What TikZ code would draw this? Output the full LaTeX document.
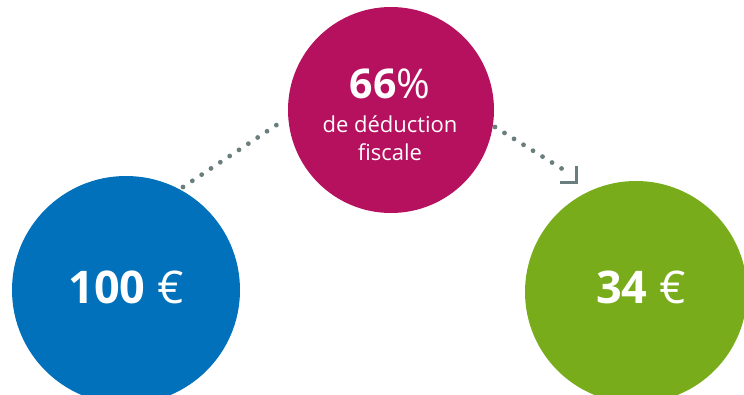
\documentclass[tikz,border=0pt]{standalone}
\usepackage{fontspec}
\setmainfont{Open Sans}
\usetikzlibrary{arrows.meta}
\definecolor{cblue}{HTML}{0071BA}
\definecolor{cmag}{HTML}{B6115F}
\definecolor{cgreen}{HTML}{78AC1B}
\definecolor{cdot}{HTML}{6B7E7E}
\tikzset{
  disc/.style={circle, inner sep=0pt, text=white, align=center},
  dotline/.style={cdot, line width=4.8pt, line cap=round, dash pattern=on 0pt off 11.2pt},
  lbl/.style={text=white, anchor=base, inner sep=0pt},
}
\begin{document}
\begin{tikzpicture}[x=1pt,y=-1pt]
\useasboundingbox (0,0) rectangle (744,394);
\clip (0,0) rectangle (744,394);
\node[disc, fill=cblue, minimum size=228pt] (blue) at (126,290) {};
\node[disc, fill=cmag, minimum size=206pt] (mag) at (391,110) {};
\node[disc, fill=cgreen, minimum size=222pt] (green) at (636,292) {};
\node[lbl, font=\fontsize{45}{45}\selectfont] (t100) at (126,303) {\textbf{100} €};
\node[lbl, font=\fontsize{45}{45}\selectfont] (t34) at (641,303) {\textbf{34} €};
\node[lbl, font=\fontsize{41}{41}\selectfont] (t66) at (390,98) {\textbf{66}\%};
\node[lbl, font=\fontsize{22}{28}\selectfont] (tded) at (390,132) {de déduction};
\node[lbl, font=\fontsize{22}{28}\selectfont] (tfis) at (390,160) {fiscale};
\coordinate (a1) at (183,187);
\coordinate (a2) at (278,124);
\coordinate (b1) at (495,127);
\coordinate (b2) at (564,170);
\coordinate (tip) at (576,182);
\draw[dotline] (a1) -- (a2);
\draw[dotline] (b1) -- (b2);
\draw[cdot, line width=3pt] ([yshift=16pt]tip) -- (tip) -- ([xshift=-16pt]tip);
\end{tikzpicture}
\end{document}
